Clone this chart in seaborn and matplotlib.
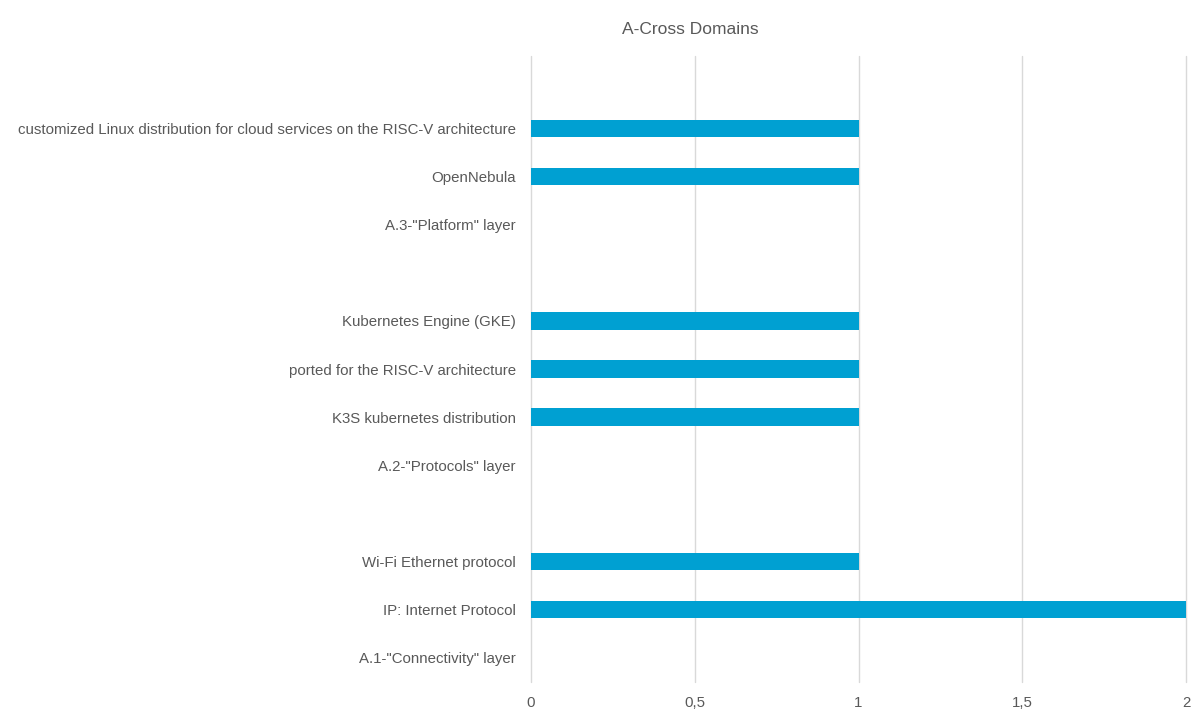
import numpy as np
import pandas as pd
import matplotlib.pyplot as plt
import seaborn as sns
from matplotlib.ticker import FuncFormatter

# categories listed top to bottom (blank rows are the gaps between groups)
categories = [
    "   ",
    "customized Linux distribution for cloud services on the RISC-V architecture",
    "OpenNebula",
    "A.3-\"Platform\" layer",
    "  ",
    "Kubernetes Engine (GKE)",
    "ported for the RISC-V architecture",
    "K3S kubernetes distribution",
    "A.2-\"Protocols\" layer",
    " ",
    "Wi-Fi Ethernet protocol",
    "IP: Internet Protocol",
    "A.1-\"Connectivity\" layer",
]
values = [0, 1, 1, 0, 0, 1, 1, 1, 0, 0, 1, 2, 0]
x_ticks = [0, 0.5, 1, 1.5, 2]

df = pd.DataFrame({"category": categories, "value": values})

sns.set_theme(style="white")
plt.rcParams["font.family"] = ["Liberation Sans", "DejaVu Sans"]

fig = plt.figure(figsize=(11.97, 7.13), dpi=100)
ax = fig.add_axes([531 / 1197, 1 - 682 / 713, (1186 - 531) / 1197, (682 - 56) / 713])

sns.barplot(data=df, x="value", y="category", order=categories, orient="h",
            color="#00A0D2", saturation=1, width=0.36, linewidth=0, ax=ax)

ax.set_xlim(0, 2)
ax.set_xticks(x_ticks)
ax.xaxis.set_major_formatter(FuncFormatter(lambda v, p: f"{v:g}".replace(".", ",")))
ax.grid(axis="x", color="#D9D9D9", linewidth=1)
for gl in ax.get_xgridlines():
    gl.set_clip_on(False)
ax.set_axisbelow(True)
for s in ax.spines.values():
    s.set_visible(False)
ax.tick_params(axis="both", length=0, colors="#595959", labelsize=10.8)
ax.tick_params(axis="y", pad=11)
ax.tick_params(axis="x", pad=10)
ax.set_xlabel("")
ax.set_ylabel("")

fig.text(690 / 1197, 1 - 29 / 713, "A-Cross Domains", ha="center", va="center",
         fontsize=12.5, color="#595959")

fig.savefig("out.png", dpi=100)
